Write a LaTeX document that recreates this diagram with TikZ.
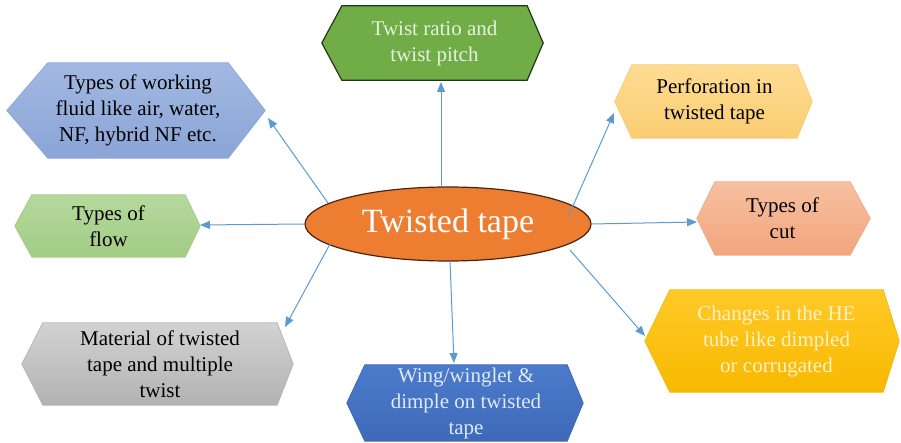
\documentclass[tikz,border=0pt]{standalone}
\usepackage{fontspec}
\setmainfont{Liberation Serif}
\newfontfamily\diagserif{Liberation Serif}
\usetikzlibrary{arrows.meta,shapes.geometric}
\definecolor{arrowblue}{HTML}{5B9BD5}
\definecolor{fluidtop}{HTML}{A3B9E2}
\definecolor{fluidbot}{HTML}{8AA4D6}
\definecolor{fluidline}{HTML}{8EA8D8}
\definecolor{twistfill}{HTML}{70AD47}
\definecolor{twistline}{HTML}{22361A}
\definecolor{twisttext}{HTML}{E6F1DE}
\definecolor{perftop}{HTML}{FFDC93}
\definecolor{perfbot}{HTML}{F9CD72}
\definecolor{perfline}{HTML}{F4CB78}
\definecolor{flowtop}{HTML}{B5D99C}
\definecolor{flowbot}{HTML}{A2CC86}
\definecolor{flowline}{HTML}{A3CC88}
\definecolor{cuttop}{HTML}{F7C0A0}
\definecolor{cutbot}{HTML}{F2A57D}
\definecolor{cutline}{HTML}{F0AD88}
\definecolor{mattop}{HTML}{D2D2D2}
\definecolor{matbot}{HTML}{B2B2B2}
\definecolor{matline}{HTML}{B8B8B8}
\definecolor{wingtop}{HTML}{4C7BCC}
\definecolor{wingbot}{HTML}{3E69B8}
\definecolor{wingline}{HTML}{3D69B5}
\definecolor{wingtext}{HTML}{DEEAF7}
\definecolor{chgtop}{HTML}{FFC928}
\definecolor{chgbot}{HTML}{F7B900}
\definecolor{chgline}{HTML}{F2BA10}
\definecolor{chgtext}{HTML}{FFF1C6}
\definecolor{ttfill}{HTML}{ED7D31}
\definecolor{ttline}{HTML}{4A2410}
\tikzset{
  hexbox/.style={inner sep=0pt, align=center, font=\fontsize{21}{26}\selectfont\diagserif},
  conn/.style={draw=arrowblue, line width=1pt, -{Triangle[width=8pt,length=10pt]}},
}
% #1 name, #2 centre, #3 flat width, #4 height, #5 left ext, #6 right ext, #7 top colour, #8 bottom colour, #9 line colour
\newcommand\hexnode[9]{%
  \node[inner sep=0pt, minimum width=#3, minimum height=#4] (#1) at #2 {};
  \path[top color=#7, bottom color=#8, draw=#9, line width=0.8pt] (#1.north west) -- (#1.north east)
    -- ([xshift=#6]#1.east) -- (#1.south east) -- (#1.south west) -- ([xshift=-#5]#1.west) -- cycle;}
\begin{document}
\begin{tikzpicture}[x=1pt,y=-1pt]
\useasboundingbox (0,0) rectangle (901,443);

\hexnode{fluid}{(138,110.5)}{180pt}{95pt}{41pt}{37pt}{fluidtop}{fluidbot}{fluidline}
\node[hexbox, text=black] (fluid-label) at (fluid.center)
  {Types of working\\fluid like air, water,\\NF, hybrid NF etc.};

\node[inner sep=0pt, minimum width=185pt, minimum height=74pt] (twist) at (434.5,43) {};
\path[fill=twistfill, draw=twistline, line width=1.2pt] (twist.north west) -- (twist.north east)
  -- ([xshift=16pt]twist.east) -- (twist.south east) -- (twist.south west) -- ([xshift=-20pt]twist.west) -- cycle;
\node[hexbox, text=twisttext] (twist-label) at (twist.center) {Twist ratio and\\twist pitch};

\hexnode{perf}{(714.5,101.5)}{165pt}{73pt}{17pt}{15pt}{perftop}{perfbot}{perfline}
\node[hexbox, text=black] (perf-label) at (perf.center) {Perforation in\\twisted tape};

\hexnode{flow}{(108.5,226)}{153pt}{62pt}{17pt}{15pt}{flowtop}{flowbot}{flowline}
\node[hexbox, text=black] (flow-label) at (flow.center) {Types of\\flow};

\hexnode{cut}{(782.5,218.5)}{135pt}{73pt}{18pt}{20pt}{cuttop}{cutbot}{cutline}
\node[hexbox, text=black] (cut-label) at (cut.center) {Types of\\cut};

\hexnode{mat}{(160,364)}{234pt}{82pt}{21pt}{16pt}{mattop}{matbot}{matline}
\node[hexbox, text=black] (mat-label) at (mat.center) {Material of twisted\\tape and multiple\\twist};

\hexnode{wing}{(466,403)}{202pt}{76pt}{18pt}{16pt}{wingtop}{wingbot}{wingline}
\node[hexbox, text=wingtext] (wing-label) at (wing.center) {Wing/winglet \&\\dimple on twisted\\tape};

\hexnode{chg}{(776.5,341)}{213pt}{102pt}{25pt}{16pt}{chgtop}{chgbot}{chgline}
\node[hexbox, text=chgtext] (chg-label) at (chg.center) {Changes in the HE\\tube like dimpled\\or corrugated};

\node[ellipse, draw=ttline, line width=1.2pt, fill=ttfill, minimum width=286pt, minimum height=74pt,
  inner sep=0pt, text=white, font=\fontsize{34}{40}\selectfont\diagserif] (tt) at (448,224) {Twisted tape};

\coordinate (s1) at (328,203);
\coordinate (e1) at (268,118);
\coordinate (s2) at (441,187);
\coordinate (e2) at (441,82);
\coordinate (s3) at (568,217);
\coordinate (e3) at (614,113);
\coordinate (e4) at (200,225);
\coordinate (e5) at (697,222);
\coordinate (s6) at (570,250);
\coordinate (e6) at (645,336);
\coordinate (s7) at (450,261);
\coordinate (e7) at (454,363);
\coordinate (s8) at (330,244);
\coordinate (e8) at (285,327);

\draw[conn] (s1) -- (e1);
\draw[conn] (s2) -- (e2);
\draw[conn] (s3) -- (e3);
\draw[conn] (tt.west) -- (e4);
\draw[conn] (tt.east) -- (e5);
\draw[conn] (s6) -- (e6);
\draw[conn] (s7) -- (e7);
\draw[conn] (s8) -- (e8);
\end{tikzpicture}
\end{document}
